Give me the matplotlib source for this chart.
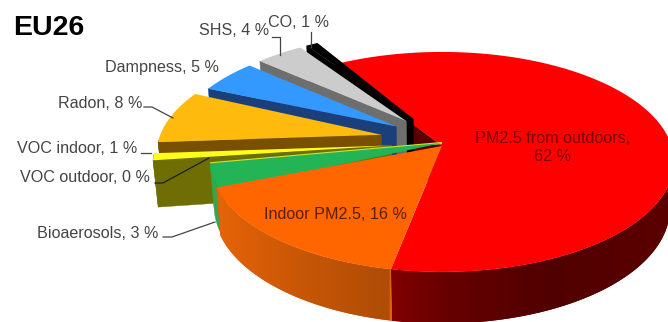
import numpy as np
import matplotlib
matplotlib.use("Agg")
import matplotlib.pyplot as plt
from matplotlib.colors import to_rgb
from matplotlib.patches import Polygon

plt.rcParams['font.family'] = ['Liberation Sans', 'DejaVu Sans']

#============ Data ============
sources = ["PM2.5 from outdoors", "Indoor PM2.5", "Bioaerosols", "VOC outdoor",
           "VOC indoor", "Radon", "Dampness", "SHS", "CO"]
shares = [62, 16, 3, 0, 1, 8, 5, 4, 1]

top_colors = ["#ff0000", "#ff6600", "#22b455", "#c8e632", "#ffff19",
              "#ffbb0d", "#3399ff", "#cccccc", "#000000"]
side_colors = ["#820000", "#e66408", "#2fa84f", "#8a8a10", "#6e6e05",
               "#785000", "#1a3f7a", "#6e6e6e", "#000000"]

# how each slice is pulled out of the pie
pull = [0, 0, 0, 0, 0.22, 0.27, 0.24, 0.24, 0.24]
radius = [1, 1, 1, 1, 1.02, 0.97, 0.97, 0.97, 0.97]
lift = [0, 0, 3, 3, 3, 6, 6, 6, 6]
turn = [0, 0, 0, 0, 3, 3, 1.5, 1.5, 1.5]

#============ Pie geometry (pixels) ============
cx, cy = 442, 146
A, S, k = 229.6, 107.7, 0.145   # disc width, height, perspective strength
depth = 46
shrink = 0.018                  # underside is slightly smaller
first_angle = 11                # degrees clockwise from straight down


def to_screen(u, v, under=False, up=0):
    w = 1 - k * v
    x = A * u / w
    y = S * v / w
    if under:
        x = x * (1 - shrink)
        y = y * (1 - shrink) + depth / w
    return cx + x, cy + y - up


def shade(x):
    return np.interp(x, [216, 300, 390, 391, 450, 550, 668],
                     [1.0, 0.87, 0.76, 1.0, 0.78, 0.62, 0.7])


fig = plt.figure(figsize=(6.68, 3.22), dpi=100)
ax = fig.add_axes([0, 0, 1, 1])
ax.set_xlim(0, 668)
ax.set_ylim(322, 0)
ax.axis('off')

# red runs from the back round the right side, the rest follow clockwise from the front
spans = np.array(shares) * 3.6
starts = np.zeros(len(shares))
starts[0] = first_angle - spans[0]
starts[1:] = first_angle + np.cumsum(np.r_[0, spans[1:-1]])
ends = starts + spans

draw_order = [0, 8, 7, 6, 5, 4, 3, 2, 1]

for i in draw_order:
    a0, a1 = starts[i] + turn[i], ends[i] + turn[i]
    mid = np.radians((a0 + a1) / 2)
    ou, ov = -np.sin(mid) * pull[i], np.cos(mid) * pull[i]

    # green tucks slightly under the orange slice so no seam shows
    if i == 2:
        a0 -= 3

    angles = np.radians(np.linspace(a0, a1, max(int(a1 - a0), 1) * 2 + 2))
    u = ou - np.sin(angles) * radius[i]
    v = ov + np.cos(angles) * radius[i]

    top_x, top_y = to_screen(u, v, up=lift[i])
    low_x, low_y = to_screen(u, v, under=True, up=lift[i])
    tip_x, tip_y = to_screen(ou, ov, up=lift[i])
    tip_lx, tip_ly = to_screen(ou, ov, under=True, up=lift[i])

    # flat wall along the leading radial edge
    if pull[i] > 0 or i == 0:
        ax.fill([tip_x, top_x[0], low_x[0], tip_lx], [tip_y, top_y[0], low_y[0], tip_ly],
                color=side_colors[i] if i else "#5a0000", lw=0.3, zorder=2)

    # curved outer wall
    front = v >= 0
    if front.any():
        wall = np.c_[np.r_[top_x[front], low_x[front][::-1]], np.r_[top_y[front], low_y[front][::-1]]]
        base = np.array(to_rgb(side_colors[i]))
        if i < 2:
            xs = np.arange(wall[:, 0].min(), wall[:, 0].max() + 1)
            gradient = (base[None, :] * shade(xs)[:, None])[None, :, :]
            ax.add_patch(Polygon(wall, closed=True, facecolor=gradient[0, len(xs) // 2], lw=0, zorder=2))
            im = ax.imshow(gradient, extent=[xs[0], xs[-1], wall[:, 1].max(), wall[:, 1].min()],
                           aspect='auto', interpolation='bilinear', zorder=2)
            im.set_clip_path(Polygon(wall, closed=True, transform=ax.transData))
        else:
            ax.add_patch(Polygon(wall, closed=True, color=base, lw=0.3, zorder=2))

    # top face
    if shares[i] == 0:
        ax.plot([tip_x, top_x[0]], [tip_y, top_y[0]], color=top_colors[i], lw=1.6, zorder=2,
                solid_capstyle='butt')
    else:
        ax.fill(np.r_[tip_x, top_x], np.r_[tip_y, top_y], color=top_colors[i], lw=0, zorder=2)

ax.set_xlim(0, 668)
ax.set_ylim(322, 0)

#============ Labels ============
grey = "#444444"
fs = 11.6
ax.text(13, 35, "EU26", fontsize=20.5, fontweight='bold', color="black", ha='left', va='baseline', zorder=4)

ax.text(269, 30, f"{sources[7]}, {shares[7]} %", fontsize=fs, color=grey, ha='right', va='center', zorder=4)
ax.text(268, 22, f"{sources[8]}, {shares[8]} %", fontsize=fs, color=grey, ha='left', va='center', zorder=4)
ax.text(219, 67, f"{sources[6]}, {shares[6]} %", fontsize=fs, color=grey, ha='right', va='center', zorder=4)
ax.text(142, 103, f"{sources[5]}, {shares[5]} %", fontsize=fs, color=grey, ha='right', va='center', zorder=4)
ax.text(137, 148, f"{sources[4]}, {shares[4]} %", fontsize=fs, color=grey, ha='right', va='center', zorder=4)
ax.text(150, 177, f"{sources[3]}, {shares[3]} %", fontsize=fs, color=grey, ha='right', va='center', zorder=4)
ax.text(158, 233, f"{sources[2]}, {shares[2]} %", fontsize=fs, color=grey, ha='right', va='center', zorder=4)

ax.text(335, 214, f"{sources[1]}, {shares[1]} %", fontsize=fs, color="#5a1e00", ha='center', va='center', zorder=4)
ax.text(553, 147, f"{sources[0]},\n{shares[0]} %", fontsize=fs, color="#780000", ha='center', va='center',
        linespacing=1.25, zorder=4)

# leader lines
ax.plot([272, 280, 280], [37, 37, 55], color=grey, lw=0.9, zorder=3)
ax.plot([311, 311], [32, 47], color=grey, lw=0.9, zorder=3)
ax.plot([144, 152, 173], [107, 107, 118], color=grey, lw=0.9, zorder=3)
ax.plot([141, 151], [153, 153], color=grey, lw=0.9, zorder=3)
ax.plot([155, 163, 209], [183, 183, 158], color="#1e1e1e", lw=0.9, zorder=3)
ax.plot([163, 172, 215], [237, 237, 222], color=grey, lw=0.9, zorder=3)

fig.savefig("out.png", dpi=100)
